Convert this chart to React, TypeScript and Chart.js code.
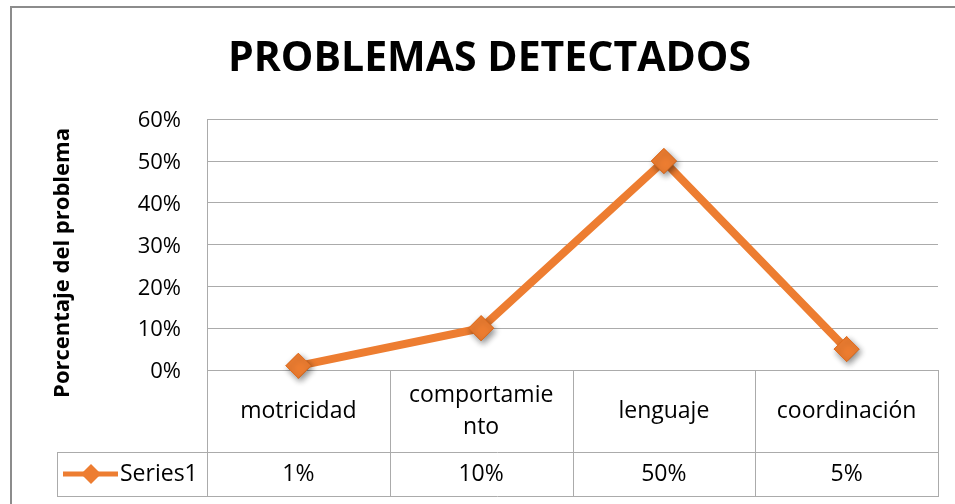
import React, { useEffect, useRef } from 'react';
import { Chart, registerables } from 'chart.js';

Chart.register(...registerables);

// ---- data ----
const chartTitle = 'PROBLEMAS DETECTADOS';
const yAxisTitle = 'Porcentaje del problema';
const seriesName = 'Series1';
const categories: (string | string[])[] = ['motricidad', ['comportamie', 'nto'], 'lenguaje', 'coordinación'];
const seriesValues = [0.01, 0.1, 0.5, 0.05];
const valueLabels = ['1%', '10%', '50%', '5%'];
const yTickLabels = ['0%', '10%', '20%', '30%', '40%', '50%', '60%'];

// ---- style ----
const FONT = '"Open Sans", "Noto Sans", sans-serif';
const ORANGE = '#ED7D31';
const ORANGE_EDGE = '#E06F22';
const GRID = '#ABABAB';
const FRAME = '#8C8C8C';

const HEADER_ROW_H = 82;
const DATA_ROW_H = 44;
const LEGEND_LEFT = 57;
const TABLE_FONT = 23;

const framePlugin = {
  id: 'outerFrame',
  beforeDraw(chart: any) {
    const { ctx } = chart;
    ctx.save();
    ctx.strokeStyle = FRAME;
    ctx.lineWidth = 2;
    ctx.beginPath();
    ctx.moveTo(11, chart.height + 10);
    ctx.lineTo(11, 7);
    ctx.lineTo(chart.width + 10, 7);
    ctx.stroke();
    ctx.restore();
  },
};

const yTitlePlugin = {
  id: 'yTitle',
  afterDraw(chart: any) {
    const { ctx } = chart;
    ctx.save();
    ctx.translate(63, 263);
    ctx.rotate(-Math.PI / 2);
    ctx.font = `bold 22px ${FONT}`;
    ctx.fillStyle = '#000';
    ctx.textAlign = 'center';
    ctx.textBaseline = 'middle';
    ctx.fillText(yAxisTitle, 0, 0);
    ctx.restore();
  },
};

const tablePlugin = {
  id: 'dataTable',
  afterDraw(chart: any) {
    const { ctx, chartArea } = chart;
    const xs = chart.scales.x;
    const labels = chart.data.labels as (string | string[])[];
    const n = labels.length;
    const left = chartArea.left;
    const right = chartArea.right;
    const top = chartArea.bottom;
    const split = top + HEADER_ROW_H;
    const bottom = split + DATA_ROW_H;
    const cw = (right - left) / n;

    ctx.save();
    ctx.strokeStyle = GRID;
    ctx.lineWidth = 1;
    ctx.beginPath();
    for (let i = 0; i <= n; i++) {
      const px = Math.round(left + i * cw) + 0.5;
      ctx.moveTo(px, top);
      ctx.lineTo(px, bottom + 1);
    }
    ctx.moveTo(LEGEND_LEFT + 0.5, split);
    ctx.lineTo(LEGEND_LEFT + 0.5, bottom + 1);
    ctx.moveTo(LEGEND_LEFT, split + 0.5);
    ctx.lineTo(right, split + 0.5);
    ctx.moveTo(LEGEND_LEFT, bottom + 0.5);
    ctx.lineTo(right, bottom + 0.5);
    ctx.stroke();

    ctx.fillStyle = '#000';
    ctx.font = `${TABLE_FONT}px ${FONT}`;
    ctx.textAlign = 'center';
    ctx.textBaseline = 'middle';
    const headerMid = top + HEADER_ROW_H / 2;
    const lineH = 32;
    labels.forEach((lab, i) => {
      const cx = xs.getPixelForValue(i);
      const lines = Array.isArray(lab) ? lab : [lab];
      const start = headerMid - ((lines.length - 1) * lineH) / 2;
      lines.forEach((ln, j) => ctx.fillText(ln, cx, start + j * lineH));
    });

    const dataMid = split + DATA_ROW_H / 2;
    const ds = chart.data.datasets[0];
    (ds.data as number[]).forEach((_v, i) => {
      const cx = xs.getPixelForValue(i);
      ctx.fillText(valueLabels[i], cx, dataMid);
    });

    // legend key
    ctx.strokeStyle = ds.borderColor;
    ctx.lineWidth = 5;
    ctx.beginPath();
    ctx.moveTo(63, dataMid);
    ctx.lineTo(118, dataMid);
    ctx.stroke();
    const r = 10;
    const kx = 91;
    ctx.fillStyle = ds.pointBackgroundColor;
    ctx.beginPath();
    ctx.moveTo(kx, dataMid - r);
    ctx.lineTo(kx + r, dataMid);
    ctx.lineTo(kx, dataMid + r);
    ctx.lineTo(kx - r, dataMid);
    ctx.closePath();
    ctx.fill();
    ctx.fillStyle = '#000';
    ctx.textAlign = 'left';
    ctx.fillText(ds.label, 120, dataMid);
    ctx.restore();
  },
};

const markerShadowPlugin = {
  id: 'markerShadow',
  afterDatasetsDraw(chart: any) {
    const { ctx } = chart;
    const meta = chart.getDatasetMeta(0);
    ctx.save();
    ctx.shadowColor = 'rgba(0,0,0,0.45)';
    ctx.shadowBlur = 6;
    ctx.shadowOffsetX = 2;
    ctx.shadowOffsetY = 3;
    meta.data.forEach((el: any) => el.draw(ctx, chart.chartArea));
    ctx.restore();
  },
};

export default function App() {
  const ref = useRef<HTMLCanvasElement | null>(null);

  useEffect(() => {
    let chart: Chart | null = null;
    let cancelled = false;
    const make = () => {
      if (cancelled || !ref.current) return;
      chart = new Chart(ref.current, {
        type: 'line',
        data: {
          labels: categories as any,
          datasets: [
            {
              label: seriesName,
              data: seriesValues,
              borderColor: ORANGE,
              backgroundColor: ORANGE,
              borderWidth: 8,
              tension: 0,
              pointStyle: 'rectRot',
              pointRadius: 12.5,
              pointBackgroundColor: ORANGE,
              pointBorderColor: ORANGE_EDGE,
              pointBorderWidth: 1,
              clip: false as any,
            },
          ],
        },
        options: {
          responsive: false,
          animation: false,
          events: [],
          layout: { padding: { left: 41, right: 17, top: 0, bottom: HEADER_ROW_H + DATA_ROW_H + 8 } },
          plugins: {
            legend: { display: false },
            tooltip: { enabled: false },
            title: {
              display: true,
              text: chartTitle,
              color: '#000',
              font: { family: FONT, size: 41, weight: 'bold' },
              padding: { top: 35, bottom: 35 },
            },
          },
          scales: {
            x: {
              type: 'category',
              display: false,
              offset: true,
              grid: { display: false },
            },
            y: {
              min: 0,
              max: 0.6,
              afterFit: (scale: any) => {
                scale.width = 166;
              },
              ticks: {
                stepSize: 0.1,
                padding: 26,
                labelOffset: 2,
                color: '#000',
                font: { family: FONT, size: 22 },
                callback: (_v: any, i: number) => yTickLabels[i],
              },
              grid: { color: GRID, drawTicks: false, lineWidth: 1 },
              border: { display: true, color: GRID, width: 1 },
            },
          },
        },
        plugins: [framePlugin, tablePlugin, yTitlePlugin, markerShadowPlugin],
      });
    };
    const fonts = (document as any).fonts;
    if (fonts && fonts.load) {
      Promise.all([fonts.load(`bold 41px ${FONT}`), fonts.load(`22px ${FONT}`)]).then(make, make);
    } else {
      make();
    }
    return () => {
      cancelled = true;
      if (chart) chart.destroy();
    };
  }, []);

  return (
    <div style={{ position: 'absolute', left: 0, top: 0, width: 955, height: 504, background: '#fff' }}>
      <canvas ref={ref} width={955} height={504} style={{ display: 'block' }} />
    </div>
  );
}
